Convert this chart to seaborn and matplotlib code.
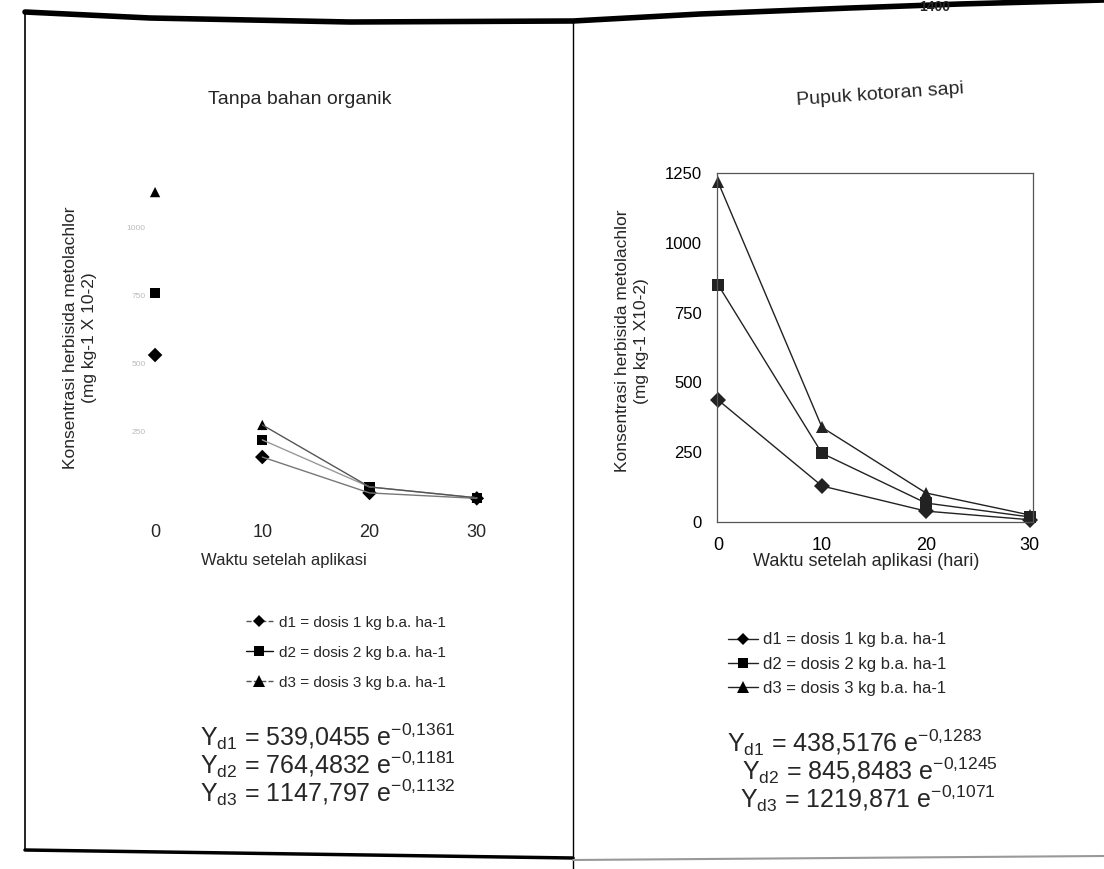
import pandas as pd
import seaborn as sns
import matplotlib
matplotlib.use("Agg")
import matplotlib.pyplot as plt
from matplotlib.lines import Line2D

# hari setelah aplikasi
days = [0, 10, 20, 30]
dose_keys = ["d1", "d2", "d3"]
dose_labels = ["d1 = dosis 1 kg b.a. ha-1",
               "d2 = dosis 2 kg b.a. ha-1",
               "d3 = dosis 3 kg b.a. ha-1"]
dose_markers = {"d1": "D", "d2": "s", "d3": "^"}
dose_msize = {"d1": 6, "d2": 7, "d3": 8}

# Tanpa bahan organik (mg kg-1 x 10-2)
tanpa_d1 = [533, 158, 26, 6]
tanpa_d2 = [761, 221, 48, 8]
tanpa_d3 = [1132, 276, 48, 8]

# Pupuk kotoran sapi (mg kg-1 x 10-2)
sapi_d1 = [437, 129, 39, 8]
sapi_d2 = [850, 246, 68, 18]
sapi_d3 = [1218, 339, 104, 25]

y_ticks = [0, 250, 500, 750, 1000, 1250]
x_ticks = [0, 10, 20, 30]

eq_tanpa = [("d1", "539,0455", "-0{,}1361"),
            ("d2", "764,4832", "-0{,}1181"),
            ("d3", "1147,797", "-0{,}1132")]
eq_sapi = [("d1", "438,5176", "-0{,}1283"),
           ("d2", "845,8483", "-0{,}1245"),
           ("d3", "1219,871", "-0{,}1071")]


def to_long(d1, d2, d3):
    df = pd.DataFrame({"hari": days, "d1": d1, "d2": d2, "d3": d3})
    return df.melt(id_vars="hari", var_name="dosis", value_name="konsentrasi")


def eq_text(key, a, b):
    return r"Y$_{\mathregular{%s}}$ = %s e$^{\mathregular{%s}}$" % (key, a, b)


sns.set_style("white")
plt.rcParams["font.family"] = ["Liberation Sans", "DejaVu Sans"]
plt.rcParams["mathtext.fontset"] = "custom"
plt.rcParams["mathtext.rm"] = "Liberation Sans"

fig = plt.figure(figsize=(11.04, 8.69), dpi=100)
W, H = 1104, 869


def fx(px):
    return px / W


def fy(py):
    return 1 - py / H


df_tanpa = to_long(tanpa_d1, tanpa_d2, tanpa_d3)
df_sapi = to_long(sapi_d1, sapi_d2, sapi_d3)

# ---------- left panel: Tanpa bahan organik ----------
ax1 = fig.add_axes([fx(154), fy(500), 326 / W, 340 / H])
sns.scatterplot(data=df_tanpa, x="hari", y="konsentrasi", style="dosis",
                markers=dose_markers, color="black", s=55, linewidth=0,
                legend=False, clip_on=False, ax=ax1)
later = df_tanpa[df_tanpa["hari"] >= 10]
sns.lineplot(data=later, x="hari", y="konsentrasi", hue="dosis",
             palette=["#777777", "#999999", "#555555"], linewidth=1.0,
             legend=False, ax=ax1)
ax1.set_xlim(-0.1, 30.3)
ax1.set_ylim(0, 1250)
ax1.set_xticks(x_ticks)
ax1.set_yticks(y_ticks[1:5])
ax1.tick_params(axis="x", length=0, pad=17, labelsize=13)
ax1.tick_params(axis="y", length=0, pad=6, labelsize=6, labelcolor="#bbbbbb")
for sp in ax1.spines.values():
    sp.set_visible(False)
ax1.set_xlabel("")
ax1.set_ylabel("")

# ---------- right panel: Pupuk kotoran sapi ----------
ax2 = fig.add_axes([fx(717), fy(522), 316 / W, 349 / H])
sns.lineplot(data=df_sapi, x="hari", y="konsentrasi", style="dosis",
             markers=dose_markers, dashes=False, color="#222222",
             linewidth=1.0, markersize=8, markeredgewidth=0,
             legend=False, clip_on=False, ax=ax2)
ax2.set_xlim(-0.1, 30.3)
ax2.set_ylim(0, 1250)
ax2.set_xticks(x_ticks)
ax2.set_yticks(y_ticks)
ax2.tick_params(axis="both", direction="out", length=3, width=0.8,
                colors="#444444", labelcolor="black")
ax2.tick_params(axis="x", pad=8, labelsize=13)
ax2.tick_params(axis="y", pad=8, labelsize=12)
for sp in ax2.spines.values():
    sp.set_color("#555555")
    sp.set_linewidth(0.9)
ax2.set_xlabel("")
ax2.set_ylabel("")

# titles, axis labels
fig.text(fx(300), fy(100), "Tanpa bahan organik", ha="center", va="center", fontsize=14)
fig.text(fx(880), fy(95), "Pupuk kotoran sapi", ha="center", va="center",
         fontsize=14, rotation=4)
fig.text(fx(284), fy(560), "Waktu setelah aplikasi", ha="center", va="center", fontsize=12)
fig.text(fx(866), fy(562), "Waktu setelah aplikasi (hari)", ha="center", va="center",
         fontsize=13)
fig.text(fx(80), fy(338), "Konsentrasi herbisida metolachlor\n(mg kg-1 X 10-2)",
         ha="center", va="center", rotation=90, fontsize=12.5, linespacing=1.3)
fig.text(fx(632), fy(341), "Konsentrasi herbisida metolachlor\n(mg kg-1 X10-2)",
         ha="center", va="center", rotation=90, fontsize=12.5, linespacing=1.3)

# legends
left_handles = [Line2D([], [], color=c, lw=1.0, marker=dose_markers[k],
                       markersize=dose_msize[k], markerfacecolor="black",
                       markeredgewidth=0, linestyle=ls)
                for k, c, ls in zip(dose_keys, ["#555555", "#111111", "#555555"],
                                    ["--", "-", "--"])]
right_handles = [Line2D([], [], color="#222222", lw=1.0, marker=dose_markers[k],
                        markersize=dose_msize[k], markerfacecolor="black",
                        markeredgewidth=0)
                 for k in dose_keys]
fig.legend(left_handles, dose_labels, loc="upper left",
           bbox_to_anchor=(fx(238), fy(608)), frameon=False, fontsize=11,
           handlelength=1.8, handletextpad=0.4, labelspacing=1.05, borderpad=0)
fig.legend(right_handles, dose_labels, loc="upper left",
           bbox_to_anchor=(fx(720), fy(624)), frameon=False, fontsize=12,
           handlelength=1.8, handletextpad=0.3, labelspacing=0.55, borderpad=0)

# persamaan
for (key, a, b), y in zip(eq_tanpa, [737, 765, 793]):
    fig.text(fx(200), fy(y), eq_text(key, a, b), ha="left", va="center", fontsize=18)
for (key, a, b), x, y in zip(eq_sapi, [727, 742, 740], [743, 771, 799]):
    fig.text(fx(x), fy(y), eq_text(key, a, b), ha="left", va="center", fontsize=18)

# page frame from the scan
fig.add_artist(Line2D([fx(p) for p in [25, 150, 350, 573, 700, 850, 960, 1104]],
                      [fy(p) for p in [12, 18, 22, 21, 14, 8, 4, 0]],
                      color="black", lw=4, transform=fig.transFigure))
fig.add_artist(Line2D([fx(25), fx(25)], [fy(12), fy(850)], color="black", lw=1.2,
                      transform=fig.transFigure))
fig.add_artist(Line2D([fx(573), fx(573)], [fy(21), fy(869)], color="black", lw=1.0,
                      transform=fig.transFigure))
fig.add_artist(Line2D([fx(25), fx(573)], [fy(850), fy(858)], color="black", lw=2.5,
                      transform=fig.transFigure))
fig.add_artist(Line2D([fx(573), fx(1104)], [fy(860), fy(856)], color="#999999", lw=1.5,
                      transform=fig.transFigure))
fig.text(fx(935), fy(0), "1400", ha="center", va="top", fontsize=10, fontweight="bold")

fig.savefig("out.png", dpi=100, facecolor="white")
